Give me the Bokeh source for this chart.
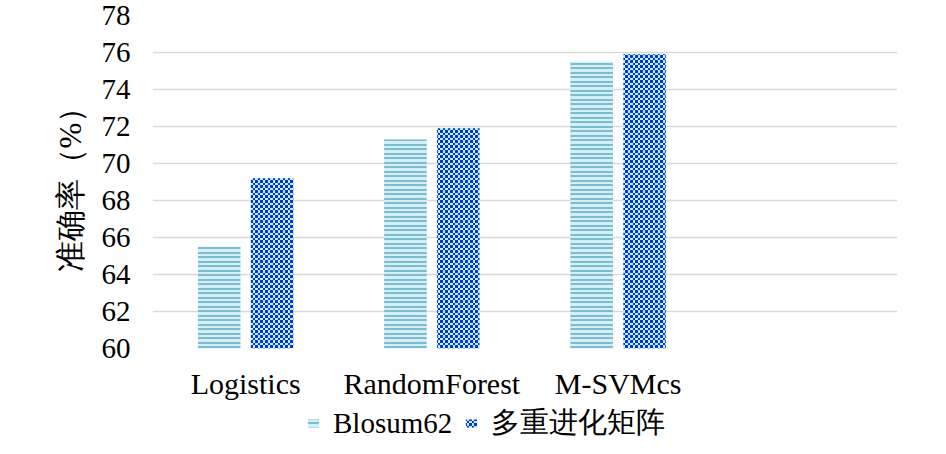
import base64, struct, zlib
from bokeh.plotting import figure
from bokeh.layouts import column
from bokeh.models import (ColumnDataSource, FactorRange, Range1d, Legend, LegendItem,
                          ImageURLTexture, FixedTicker)
from bokeh.transform import dodge
from bokeh.core.properties import value
from bokeh.embed import file_html
from bokeh.resources import INLINE

categories = ["Logistics", "RandomForest", "M-SVMcs"]
blosum62 = [65.5, 71.3, 75.5]
multi = [69.2, 71.9, 75.9]
series_names = ["Blosum62", "多重进化矩阵"]
y_ticks = [60, 62, 64, 66, 68, 70, 72, 74, 76, 78]

# --- small PNG textures for the bar patterns ---
def png_data_url(pixels):
    h = len(pixels); w = len(pixels[0])
    raw = b"".join(b"\x00" + b"".join(bytes(px) for px in row) for row in pixels)
    def chunk(t, d):
        c = struct.pack(">I", len(d)) + t + d
        return c + struct.pack(">I", zlib.crc32(t + d) & 0xffffffff)
    png = b"\x89PNG\r\n\x1a\n" + chunk(b"IHDR", struct.pack(">IIBBBBB", w, h, 8, 2, 0, 0, 0)) \
        + chunk(b"IDAT", zlib.compress(raw)) + chunk(b"IEND", b"")
    return "data:image/png;base64," + base64.b64encode(png).decode()

blue = (0, 58, 210)
light = (198, 236, 244)
cells = [0, 0, 0, 1, 1, 2, 2, 2, 3, 3]
checker = [[blue if (cells[i] + cells[j]) % 2 == 0 else light for j in range(10)] for i in range(10)]
checker_url = png_data_url(checker)

sdark = (124, 189, 212)
slight = (212, 240, 244)
stripe = [[sdark] * 4, [sdark] * 4, [slight] * 4, [slight] * 4, [sdark] * 4, [sdark] * 4, [slight] * 4,
          [slight] * 4, [slight] * 4]
stripe_url = png_data_url(stripe)

factors = categories + [" "]
source = ColumnDataSource(dict(cat=categories, blosum62=blosum62, multi=multi))
serif = "Liberation Serif"

def add_bars(fig):
    a = fig.vbar(x=dodge("cat", -0.142, range=fig.x_range), top="blosum62", bottom=60, width=0.228,
                 source=source, fill_color="#d4f0f4", line_color=None,
                 hatch_pattern=value("stripe"),
                 hatch_extra={"stripe": ImageURLTexture(url=stripe_url)}, hatch_color="#7cbdd4")
    b = fig.vbar(x=dodge("cat", 0.142, range=fig.x_range), top="multi", bottom=60, width=0.228,
                 source=source, fill_color="#c6ecf4", line_color=None,
                 hatch_pattern=value("checker"),
                 hatch_extra={"checker": ImageURLTexture(url=checker_url)}, hatch_color="#003ad2")
    return a, b

# ---------------- main chart ----------------
p = figure(x_range=FactorRange(factors=factors, range_padding=0), y_range=Range1d(60, 78),
           width=930, height=404, output_backend="svg", toolbar_location=None,
           min_border_left=152, min_border_right=33, min_border_top=15, min_border_bottom=56)
p.outline_line_color = None
add_bars(p)

p.yaxis.ticker = FixedTicker(ticks=y_ticks)
p.yaxis.axis_line_color = None
p.yaxis.major_tick_line_color = None
p.yaxis.minor_tick_line_color = None
p.yaxis.major_label_text_font = serif
p.yaxis.major_label_text_font_size = "29px"
p.yaxis.major_label_text_color = "black"
p.yaxis.major_label_standoff = 16
p.yaxis.axis_label = "准确率（%）"
p.yaxis.axis_label_text_font = serif
p.yaxis.axis_label_text_font_size = "31px"
p.yaxis.axis_label_text_font_style = "normal"
p.yaxis.axis_label_text_color = "black"
p.yaxis.axis_label_standoff = 11

p.xaxis.axis_line_color = None
p.xaxis.major_tick_line_color = None
p.xaxis.minor_tick_line_color = None
p.xaxis.major_label_text_font = serif
p.xaxis.major_label_text_font_size = "30px"
p.xaxis.major_label_text_color = "black"
p.xaxis.major_label_standoff = 12

p.xgrid.grid_line_color = None
p.ygrid.grid_line_color = "#d9d9d9"
p.ygrid.grid_line_width = 1.5

# ---------------- legend strip ----------------
leg = figure(x_range=FactorRange(factors=factors, range_padding=0), y_range=Range1d(0, 1),
             width=930, height=34, output_backend="svg", toolbar_location=None, min_border=0,
             x_axis_location=None, y_axis_location=None)
leg.grid.grid_line_color = None
leg.outline_line_color = None
l1, l2 = add_bars(leg)
l1.visible = False
l2.visible = False

legend = Legend(items=[LegendItem(label=series_names[0], renderers=[l1]),
                       LegendItem(label=series_names[1], renderers=[l2])],
                orientation="horizontal", location=(154, -5),
                label_text_font=serif, label_text_font_size="29px", label_text_color="black",
                glyph_width=14, glyph_height=10, label_standoff=13, spacing=12,
                padding=0, margin=0, border_line_color=None, background_fill_alpha=0,
                inactive_fill_alpha=0)
leg.add_layout(legend)

layout = column(p, leg, spacing=0)
open("out.html", "w").write(file_html(layout, INLINE))
